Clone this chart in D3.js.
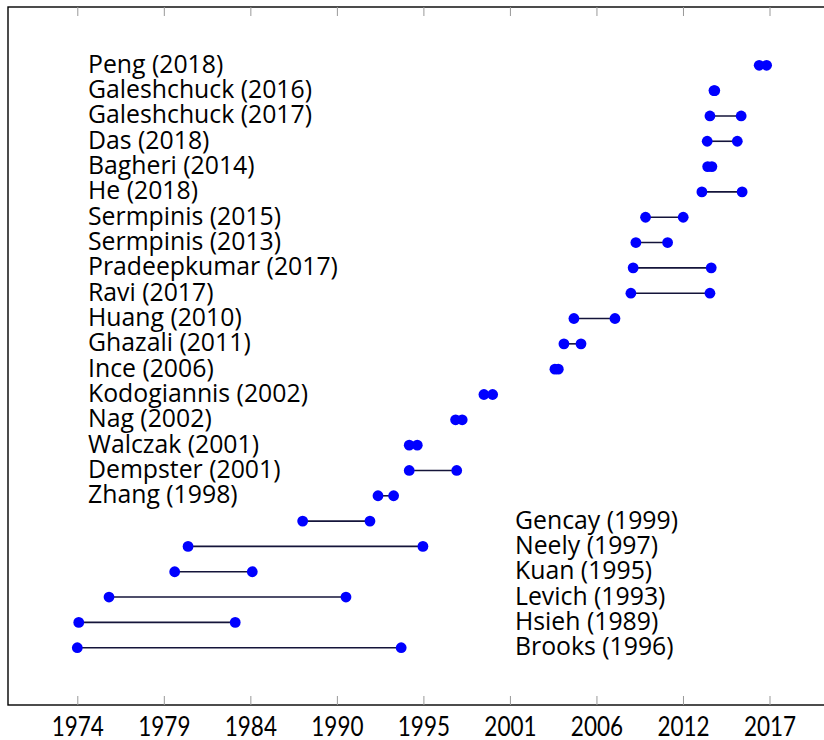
<!DOCTYPE html>
<html>
<head>
<meta charset="utf-8">
<script src="https://cdn.jsdelivr.net/npm/d3@7"></script>
<style>
  html, body { margin: 0; padding: 0; background: #fff; }
  svg { display: block; }
  .lbl { font-family: Lato, "Open Sans", sans-serif; fill: #000; }
  .name { font-family: "Open Sans", Lato, sans-serif; fill: #000; }
</style>
</head>
<body>
<svg id="chart" width="824" height="740"></svg>
<script>
// Studies, top to bottom, with the start and end year of the period each one covers
const studies = [
  "Peng (2018)", "Galeshchuck (2016)", "Galeshchuck (2017)", "Das (2018)",
  "Bagheri (2014)", "He (2018)", "Sermpinis (2015)", "Sermpinis (2013)",
  "Pradeepkumar (2017)", "Ravi (2017)", "Huang (2010)", "Ghazali (2011)",
  "Ince (2006)", "Kodogiannis (2002)", "Nag (2002)", "Walczak (2001)",
  "Dempster (2001)", "Zhang (1998)", "Gencay (1999)", "Neely (1997)",
  "Kuan (1995)", "Levich (1993)", "Hsieh (1989)", "Brooks (1996)"
];
const startYear = [
  2016.36, 2013.55, 2013.30, 2013.13,
  2013.16, 2012.80, 2009.30, 2008.70,
  2008.53, 2008.39, 2004.85, 2004.23,
  2003.67, 1999.26, 1997.50, 1994.62,
  1994.62, 1992.68, 1988.00, 1980.88,
  1980.05, 1975.97, 1974.09, 1974.00
];
const endYear = [
  2016.82, 2013.60, 2015.24, 2015.00,
  2013.42, 2015.30, 2011.64, 2010.67,
  2013.38, 2013.30, 2007.40, 2005.29,
  2003.88, 1999.80, 1997.91, 1995.12,
  1997.57, 1993.65, 1992.18, 1995.47,
  1984.87, 1990.69, 1983.81, 1994.12
];
// Axis ticks and their printed labels
const tickValues = [1974, 1979.375, 1984.75, 1990.125, 1995.5, 2000.875, 2006.25, 2011.625, 2017];
const tickLabels = ["1974", "1979", "1984", "1990", "1995", "2001", "2006", "2012", "2017"];

const svg = d3.select("#chart");
const frame = { left: 8, top: 7, right: 850, bottom: 705 };

const x = d3.scaleLinear().domain([1974, 2017]).range([77.3, 769.5]);
const y = d3.scalePoint().domain(studies).range([65.3, 647.7]);

// plot frame
svg.append("rect")
  .attr("x", frame.left).attr("y", frame.top)
  .attr("width", frame.right - frame.left).attr("height", frame.bottom - frame.top)
  .attr("fill", "none").attr("stroke", "#000").attr("stroke-width", 1.4);

// bottom axis: inward ticks plus labels
const bottomAxis = svg.append("g")
  .attr("transform", `translate(0,${frame.bottom})`)
  .call(d3.axisBottom(x).tickValues(tickValues)
    .tickFormat((d, i) => tickLabels[i]).tickSizeInner(-9).tickSizeOuter(0));
bottomAxis.select(".domain").remove();
bottomAxis.selectAll(".tick line").attr("stroke", "#999").attr("stroke-width", 1);
bottomAxis.selectAll(".tick text")
  .attr("class", "lbl")
  .attr("y", 0).attr("dy", 0)
  .attr("transform", "translate(0,31) scale(1,1.2)")
  .attr("font-size", 22.5)
  .attr("text-anchor", "middle");

// top axis: inward ticks only
const topAxis = svg.append("g")
  .attr("transform", `translate(0,${frame.top})`)
  .call(d3.axisTop(x).tickValues(tickValues).tickFormat("").tickSizeInner(-9).tickSizeOuter(0));
topAxis.select(".domain").remove();
topAxis.selectAll(".tick line").attr("stroke", "#999").attr("stroke-width", 1);

// connector lines
svg.append("g").selectAll("line")
  .data(studies)
  .join("line")
  .attr("x1", (d, i) => x(startYear[i]))
  .attr("x2", (d, i) => x(endYear[i]))
  .attr("y1", d => y(d))
  .attr("y2", d => y(d))
  .attr("stroke", "#14143a")
  .attr("stroke-width", 1.6);

// endpoints
const dots = svg.append("g");
studies.forEach((s, i) => {
  [startYear[i], endYear[i]].forEach(v => {
    dots.append("circle")
      .attr("cx", x(v)).attr("cy", y(s)).attr("r", 5.4)
      .attr("fill", "#0000ff");
  });
});

// study names: the last six sit in a second column to clear their spans
svg.append("g").selectAll("text")
  .data(studies)
  .join("text")
  .attr("class", "name")
  .attr("x", (d, i) => i < 18 ? 88 : 515)
  .attr("y", d => y(d) + 7.5)
  .attr("font-size", 24.8)
  .text(d => d);
</script>
</body>
</html>
